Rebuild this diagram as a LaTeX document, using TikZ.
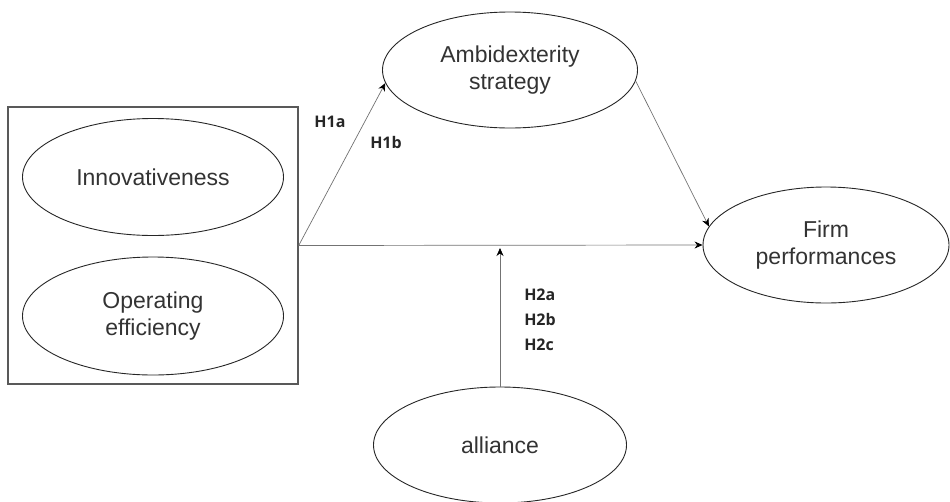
\documentclass[tikz,border=0pt]{standalone}
\usepackage{fontspec}
\setmainfont{Liberation Sans}
\newfontfamily\hypfont{Open Sans}
\usepackage{tikz}
\usetikzlibrary{arrows.meta,shapes,positioning}
\tikzset{
  construct/.style={draw=black!85, ellipse, line width=0.9pt, minimum width=258pt, minimum height=116pt,
    align=center, text=black!80, font=\fontsize{23}{27}\selectfont, inner sep=0pt},
  path/.style={-{Stealth[length=8pt, width=7pt, black]}, draw=black!55, line width=0.7pt},
  hyp/.style={font=\hypfont\bfseries\fontsize{16}{25}\selectfont, text=black!85, align=left, inner sep=0pt}
}
\begin{document}
\begin{tikzpicture}[x=1pt, y=-1pt]
        \useasboundingbox (0,0) rectangle (950,501);
        % Define the nodes: antecedents inside a box on the left
        \node[draw=black!65, line width=1.4pt, rectangle, minimum width=290pt, minimum height=277pt, inner sep=0pt] (drivers) at (153,245.5) {};
        \node[construct, minimum width=261pt, minimum height=117pt] (innov) at (153,177) {Innovativeness};
        \node[construct, minimum width=261pt, minimum height=118pt] (operating) at (153,316) {Operating\\efficiency};
        
        % Mediator and outcome
        \node[construct, minimum width=255pt] (ambi) at (510,70) {Ambidexterity\\strategy};
        \node[construct, minimum width=246pt] (firm) at (826,245) {Firm\\performances};
        
        % Moderator at the bottom
        \node[construct, minimum width=253pt] (alliance) at (500,445) {alliance};
        \coordinate (hit) at (500,248);
        
        % Connect the nodes
        \draw[path] (drivers.east) -- (ambi.186);
        \draw[path] (drivers.east) -- (firm.west);
        \draw[path] (ambi.355) -- (firm.171);
        \draw[path] (alliance.north) -- (hit);
        
        % Hypothesis labels
        \node[hyp] (h1a) at (330,122) {H1a};
        \node[hyp] (h1b) at (386,142) {H1b};
        \node[hyp] (h2) at (540,320) {H2a\\H2b\\H2c};
    \end{tikzpicture}
\end{document}
